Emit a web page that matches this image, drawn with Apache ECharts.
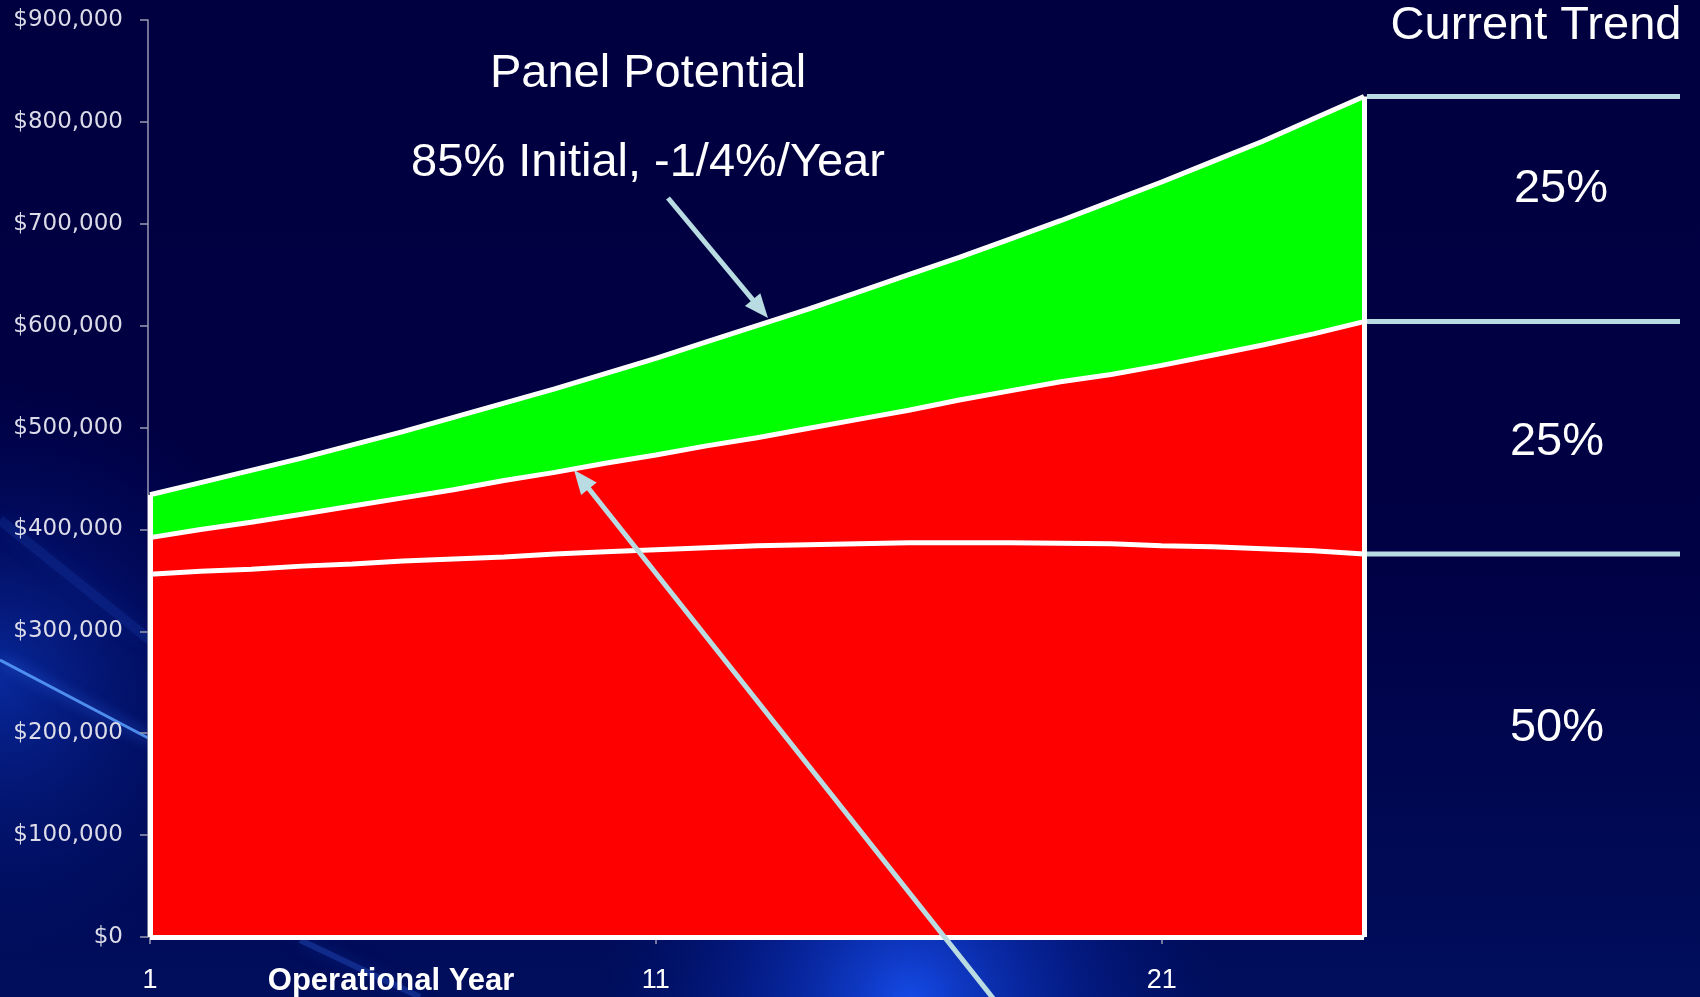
<!DOCTYPE html>
<html>
<head>
<meta charset="utf-8">
<script src="https://cdn.jsdelivr.net/npm/echarts@6/dist/echarts.min.js"></script>
<style>
html,body{margin:0;padding:0;background:#00003f}
#main{width:1700px;height:997px}
</style>
</head>
<body>
<div id="main"></div>
<script>
// operational years 1..25
var years = ['1','2','3','4','5','6','7','8','9','10','11','12','13','14','15','16','17','18','19','20','21','22','23','24','25']
// panel potential (top of green)
var panelPotential = [434000,446000,458000,470000,483000,496000,510000,524000,538000,553000,568000,584000,600000,616000,633000,650000,667000,685000,703000,722000,741000,761000,781000,803000,825000]
// top of red band
var midBand = [392000,400000,407000,415000,423000,431000,439000,448000,456000,465000,473000,482000,490000,499000,508000,517000,527000,536000,545000,552000,561000,571000,581000,592000,604000]
// current trend (white line inside red)
var currentTrend = [356000,359000,361000,364000,366000,369000,371000,373000,376000,378000,380000,382000,384000,385000,386000,387000,387000,387000,386500,386000,384000,383000,381000,379000,376000]
var bandLabels = ['25%','25%','50%']

var AX = '#9a9ab4'
var PALE = '#b8dce2'

var chart = echarts.init(document.getElementById('main'))

var option = {
  backgroundColor:'#00003f',
  animation:false,
  grid:{left:150,right:336,top:20,bottom:60},
  xAxis:{
    type:'category',
    data:years,
    boundaryGap:false,
    axisLine:{lineStyle:{color:AX,width:1.5}},
    axisTick:{show:true,interval:9,length:7,lineStyle:{color:AX,width:1.5}},
    axisLabel:{interval:9,color:'#fff',fontFamily:'Liberation Sans',fontSize:27,lineHeight:27,margin:30},
    splitLine:{show:false}
  },
  yAxis:{
    type:'value',
    min:0,
    max:900000,
    interval:100000,
    offset:2,
    axisLine:{show:true,lineStyle:{color:AX,width:1.5}},
    axisTick:{show:true,length:8,lineStyle:{color:AX,width:1.5}},
    axisLabel:{
      color:'#dcdce8',
      fontFamily:'DejaVu Sans',
      fontSize:23,
      margin:25,
      formatter:function(v){return '$'+v.toLocaleString('en-US')}
    },
    splitLine:{show:false}
  },
  series:[{
    type:'line',
    name:'Panel Potential',
    data:panelPotential,
    symbol:'none',
    z:2,
    lineStyle:{color:'#fff',width:5},
    areaStyle:{color:'#00ff00',opacity:1}
  },{
    type:'line',
    name:'Band',
    data:midBand,
    symbol:'none',
    z:3,
    lineStyle:{color:'#fff',width:5},
    areaStyle:{color:'#ff0000',opacity:1}
  },{
    type:'line',
    name:'Current Trend',
    data:currentTrend,
    symbol:'none',
    z:4,
    lineStyle:{color:'#fff',width:5},
    markLine:{
      silent:true,
      symbol:'none',
      label:{show:false},
      emphasis:{disabled:true},
      lineStyle:{color:'#fff',width:5,type:'solid'},
      data:[
        [{coord:[years[0],0]},{coord:[years[0],panelPotential[0]]}],
        [{coord:[years[24],0]},{coord:[years[24],panelPotential[24]]}],
        [{coord:[years[0],0]},{coord:[years[24],0]}]
      ]
    }
  }]
}
chart.setOption(option)

function arrow(x1,y1,x2,y2){
  var dx = x2-x1, dy = y2-y1
  var len = Math.sqrt(dx*dx+dy*dy), ux = dx/len, uy = dy/len
  var hl = 24, hw = 10
  var bx = x2-ux*hl, by = y2-uy*hl
  return [{
    type:'line',z:20,
    shape:{x1:x1,y1:y1,x2:bx+ux*2,y2:by+uy*2},
    style:{stroke:PALE,lineWidth:5}
  },{
    type:'polygon',z:20,
    shape:{points:[[x2,y2],[bx-uy*hw,by+ux*hw],[bx+uy*hw,by-ux*hw]]},
    style:{fill:PALE}
  }]
}

function txt(s,x,y,font){
  return {type:'text',z:15,x:x,y:y,style:{text:s,fill:'#fff',font:font || '47px "Liberation Sans"',align:'center',verticalAlign:'middle'}}
}

var bg = [{
  type:'rect',z:-100,silent:true,
  shape:{x:0,y:0,width:1700,height:997},
  style:{fill:new echarts.graphic.LinearGradient(0,0,0,1,[
    {offset:0,color:'#000040'},{offset:0.55,color:'#000044'},{offset:1,color:'#000e5c'}])}
},{
  type:'rect',z:-99,silent:true,
  shape:{x:500,y:680,width:820,height:640},
  style:{fill:new echarts.graphic.RadialGradient(0.5,0.5,0.5,[
    {offset:0,color:'rgba(25,85,255,0.85)'},{offset:0.5,color:'rgba(10,50,200,0.4)'},{offset:1,color:'rgba(0,20,120,0)'}])}
},{
  type:'rect',z:-99,silent:true,
  shape:{x:-300,y:380,width:600,height:600},
  style:{fill:new echarts.graphic.RadialGradient(0.5,0.5,0.5,[
    {offset:0,color:'rgba(15,70,220,0.55)'},{offset:1,color:'rgba(0,20,120,0)'}])}
},{
  type:'line',z:-98,silent:true,
  shape:{x1:0,y1:660,x2:152,y2:740},
  style:{stroke:'rgba(90,160,255,0.85)',lineWidth:3,shadowBlur:14,shadowColor:'#3b7bff'}
},{
  type:'line',z:-98,silent:true,
  shape:{x1:0,y1:520,x2:150,y2:640},
  style:{stroke:'rgba(60,120,255,0.12)',lineWidth:10,shadowBlur:20,shadowColor:'#2050e0'}
},{
  type:'line',z:-98,silent:true,
  shape:{x1:300,y1:940,x2:420,y2:997},
  style:{stroke:'rgba(60,120,255,0.25)',lineWidth:6,shadowBlur:16,shadowColor:'#2050e0'}
}]

// pale lines to the right at the end values
var ends = [panelPotential[24],midBand[24],currentTrend[24]].map(function(v){
  var p = chart.convertToPixel({seriesIndex:0},[years[24],v])
  return {type:'line',z:10,shape:{x1:p[0]+3,y1:p[1],x2:1680,y2:p[1]},style:{stroke:PALE,lineWidth:5}}
})

var texts = [
  txt('Panel Potential',648,74),
  txt('85% Initial, -1/4%/Year',648,163),
  txt('Current Trend',1536,26),
  txt(bandLabels[0],1561,189),
  txt(bandLabels[1],1557,442),
  txt(bandLabels[2],1557,728),
  txt('Operational Year',391,981,'bold 31px "Liberation Sans"')
]

var arrows = arrow(668,198,768,318).concat(arrow(996,1002,574,470))

chart.setOption({graphic:bg.concat(ends,texts,arrows)})
</script>
</body>
</html>
